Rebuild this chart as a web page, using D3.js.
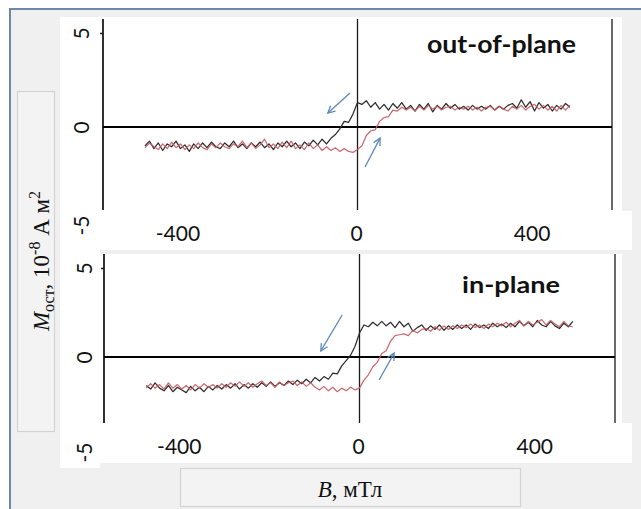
<!DOCTYPE html>
<html><head><meta charset="utf-8">
<script src="https://cdn.jsdelivr.net/npm/d3@7"></script>
<style>body{margin:0;background:#fff;overflow:hidden}</style>
</head><body>
<svg id="c" width="641" height="509"></svg>
<script>
// ---------- data ----------
const fieldB = [-480,-470,-460,-450,-440,-430,-420,-410,-400,-390,-380,-370,-360,-350,-340,-330,-320,-310,-300,-290,
-280,-270,-260,-250,-240,-230,-220,-210,-200,-190,-180,-170,-160,-150,-140,-130,-120,-110,-100,-90,-80,-70,
-60,-50,-40,-30,-20,-10,0,
10,20,30,40,50,60,70,80,90,100,110,120,130,140,150,160,170,180,190,200,210,220,230,240,250,260,270,280,290,300,
310,320,330,340,350,360,370,380,390,400,410,420,430,440,450,460,470,480];

// out-of-plane, descending branch (black)
const outBlack = [-1.0,-0.75,-1.15,-0.85,-1.25,-0.9,-1.05,-0.75,-1.15,-0.95,-1.3,-0.9,-1.15,-0.85,-1.1,-0.8,-1.05,-1.15,-0.85,-1.05,
-0.75,-1.1,-0.9,-1.15,-0.85,-1.05,-0.8,-1.1,-0.9,-1.2,-0.85,-1.05,-0.75,-1.05,-0.85,-1.15,-0.8,-1.0,-0.7,-0.95,-0.65,-0.9,
-0.6,-0.4,-0.1,0.3,0.25,0.7,1.3,
1.2,1.4,1.05,1.3,0.95,1.2,0.9,1.25,1.0,1.3,0.95,1.15,0.85,1.2,0.95,1.25,0.8,1.15,0.95,1.25,1.0,1.2,0.95,1.1,0.9,1.15,0.95,1.1,0.95,1.15,
0.9,1.1,0.95,1.15,1.25,1.0,1.45,1.05,1.35,0.85,1.3,1.0,1.2,0.85,1.15,0.95,1.25,1.05];
// out-of-plane, ascending branch (red)
const outRed = [-1.1,-0.85,-1.05,-1.2,-0.9,-1.15,-0.8,-1.1,-0.9,-1.2,-0.95,-1.15,-0.85,-1.1,-1.2,-0.9,-1.1,-0.85,-1.05,-1.15,
-0.9,-1.05,-0.75,-1.1,-0.85,-1.15,-0.95,-0.65,-1.1,-0.9,-1.15,-0.8,-1.1,-0.75,-1.15,-0.95,-1.2,-0.85,-1.15,-0.95,-1.25,-1.05,
-1.25,-1.1,-1.3,-1.15,-1.3,-1.35,-1.2,
-1.0,-0.45,-0.2,-0.15,0.3,0.5,0.55,0.9,0.85,1.05,0.9,1.05,0.85,1.1,0.9,1.15,0.95,1.1,0.9,1.05,1.1,0.9,1.05,0.95,1.1,0.9,1.05,0.85,1.05,1.1,
0.9,1.1,0.95,0.85,1.1,0.95,1.15,0.9,1.1,1.2,0.95,1.15,0.9,1.1,0.85,1.15,0.9,1.15];

// in-plane, descending branch (black)
const inBlack = [-1.6,-1.8,-1.45,-1.75,-1.9,-1.6,-1.95,-1.7,-1.85,-2.0,-1.65,-1.9,-1.7,-1.95,-1.65,-1.85,-1.6,-1.8,-1.55,-1.75,
-1.5,-1.8,-1.55,-1.75,-1.5,-1.7,-1.45,-1.65,-1.4,-1.65,-1.45,-1.6,-1.35,-1.55,-1.3,-1.5,-1.25,-1.45,-1.15,-1.35,-1.1,-1.25,
-0.9,-0.95,-0.5,-0.2,0.1,0.6,1.35,
1.8,1.7,1.95,1.75,2.0,1.75,1.95,1.65,2.0,1.7,1.9,1.45,1.65,1.8,1.5,1.75,1.55,1.8,1.5,1.75,1.55,1.8,1.6,1.8,1.55,1.85,1.65,1.8,1.6,1.9,
1.7,1.85,1.65,1.9,1.7,2.0,1.75,1.95,1.7,2.05,1.8,1.7,2.0,1.75,1.6,1.9,1.7,2.0];
// in-plane, ascending branch (red)
const inRed = [-1.75,-1.5,-1.75,-1.55,-1.8,-1.45,-1.75,-1.55,-1.8,-1.6,-1.85,-1.55,-1.75,-1.5,-1.7,-1.55,-1.75,-1.5,-1.7,-1.45,
-1.65,-1.4,-1.65,-1.45,-1.7,-1.5,-1.35,-1.6,-1.45,-1.7,-1.4,-1.6,-1.45,-1.35,-1.6,-1.4,-1.65,-1.45,-1.7,-1.85,-1.65,-1.9,
-1.7,-1.95,-1.75,-1.9,-1.7,-1.85,-1.75,
-1.3,-1.0,-0.55,-0.3,0.2,0.35,0.9,1.2,1.25,1.3,1.2,1.5,1.35,1.55,1.6,1.45,1.7,1.5,1.75,1.55,1.75,1.6,1.8,1.65,1.85,1.65,1.8,1.6,1.85,1.7,
1.9,1.75,1.95,1.7,1.9,2.05,1.75,2.0,1.8,1.95,2.1,1.8,2.05,1.85,1.7,2.0,1.75,1.7];

const xTicks = [-400, 0, 400];
const yTicks = [-5, 0, 5];
const panelTitles = ["out-of-plane", "in-plane"];
// arrows: [B start, M start, B end, M end]
const outArrows = [[-17, 1.81, -67, 0.74], [17, -2.13, 51, -0.59]];
const inArrows  = [[-39, 2.36, -87, 0.34], [44, -1.29, 78, 0.22]];
const xDomain = [-575, 575];
const yDomain = [-5, 5];

// ---------- layout ----------
const svg = d3.select("#c");
const defs = svg.append("defs");
defs.append("marker").attr("id","ah").attr("viewBox","-9 -6 11 12")
  .attr("refX",0).attr("refY",0).attr("markerWidth",11).attr("markerHeight",12)
  .attr("markerUnits","userSpaceOnUse").attr("orient","auto")
  .append("path").attr("d","M-7,-3.6 L0,0 L-7,3.6").attr("fill","none")
  .attr("stroke","#5f89b8").attr("stroke-width",1.3);

const fmt = d => String(d);

// background & frame
svg.append("rect").attr("x",0).attr("y",0).attr("width",641).attr("height",509).attr("fill","#ffffff");
svg.append("rect").attr("x",10).attr("y",9).attr("width",660).attr("height",540)
  .attr("fill","#f0f0f0").attr("stroke","#6d88a6").attr("stroke-width",2);

// white areas
const white = [[60,17,40,451],[100,17,522,194],[100,211,532,39],[100,254,522,169],[100,423,532,40]];
white.forEach(r => svg.append("rect").attr("x",r[0]).attr("y",r[1]).attr("width",r[2]).attr("height",r[3]).attr("fill","#ffffff"));

// label boxes
svg.append("rect").attr("x",17.5).attr("y",91.5).attr("width",37).attr("height",340)
  .attr("fill","#f3f3f3").attr("stroke","#d3d3d3").attr("stroke-width",1.2);
svg.append("rect").attr("x",180.5).attr("y",468.5).attr("width",340).attr("height",38)
  .attr("fill","#f3f3f3").attr("stroke","#d3d3d3").attr("stroke-width",1.2);

const panels = [
  {black: outBlack, red: outRed, arrows: outArrows, title: panelTitles[0],
   xr: [103, 612], yr: [221, 33], axTop: 19, axBot: 210, tickY: 239, yLabX: 80, m5shift: 4,
   titleEnd: 576, titleY: 53, titleLen: 149, titleSize: 24},
  {black: inBlack, red: inRed, arrows: inArrows, title: panelTitles[1],
   xr: [104, 615], yr: [446, 268], axTop: 254, axBot: 423, tickY: 452, yLabX: 83, m5shift: 6,
   titleEnd: 560, titleY: 293, titleLen: 98, titleSize: 23}
];

panels.forEach(p => {
  const x = d3.scaleLinear().domain(xDomain).range(p.xr);
  const y = d3.scaleLinear().domain(yDomain).range(p.yr);
  const g = svg.append("g");

  // frame lines: left axis, B=0 line, right line
  [x.range()[0], x(0), x.range()[1]].forEach((xx, i) => {
    g.append("line").attr("x1",xx).attr("x2",xx).attr("y1",p.axTop).attr("y2",p.axBot)
      .attr("stroke", "#1a1a1a").attr("stroke-width", i === 0 ? 1.8 : 1.3);
  });

  // y axis ticks (rotated labels)
  const ya = d3.axisLeft(y).tickValues(yTicks).tickSize(3).tickFormat(fmt);
  const yg = g.append("g").attr("transform",`translate(${x.range()[0]},0)`).call(ya);
  yg.select(".domain").remove();
  yg.selectAll(".tick line").attr("stroke","#1a1a1a").attr("stroke-width",1.5)
    .attr("display", d => d === 5 ? null : "none");
  yg.selectAll(".tick text")
    .attr("x",0).attr("dy",null).attr("y",0)
    .attr("transform", d => `translate(${p.yLabX - x.range()[0]},${d === -5 ? p.m5shift : 0}) rotate(-90)`)
    .attr("text-anchor","middle").attr("dominant-baseline","central")
    .style("font-family","Lato, 'Open Sans', sans-serif").style("font-size","21px").attr("fill","#111");

  // x axis tick labels
  const xa = d3.axisBottom(x).tickValues(xTicks).tickSize(0).tickFormat(fmt);
  const xg = g.append("g").attr("transform",`translate(0,${p.tickY - 15})`).call(xa);
  xg.select(".domain").remove();
  xg.selectAll(".tick text").attr("y",0).attr("dy","0.8em")
    .attr("transform", d => `translate(${d === 0 ? -1.5 : -3},0)`)
    .style("font-family","Lato, 'Open Sans', sans-serif").style("font-size","21px").attr("fill","#111");

  // zero line
  g.append("line").attr("x1",x.range()[0]).attr("x2",x.range()[1]).attr("y1",y(0)).attr("y2",y(0))
    .attr("stroke","#000").attr("stroke-width",2.2);

  // curves
  const line = d3.line().x((d,i) => x(fieldB[i])).y(d => y(d));
  g.append("path").attr("d", line(p.black)).attr("fill","none")
    .attr("stroke","#2e2e2e").attr("stroke-width",1.25).attr("stroke-linejoin","round");
  g.append("path").attr("d", line(p.red)).attr("fill","none")
    .attr("stroke","#c45a62").attr("stroke-width",1.25).attr("stroke-opacity",0.9).attr("stroke-linejoin","round");

  // arrows
  p.arrows.forEach(a => {
    g.append("line").attr("x1",x(a[0])).attr("y1",y(a[1])).attr("x2",x(a[2])).attr("y2",y(a[3]))
      .attr("stroke","#5f89b8").attr("stroke-width",1.3).attr("marker-end","url(#ah)");
  });

  // title
  g.append("text").attr("x",p.titleEnd).attr("y",p.titleY).attr("text-anchor","end")
    .attr("textLength",p.titleLen).attr("lengthAdjust","spacingAndGlyphs")
    .style("font-family","Lato, 'Open Sans', sans-serif").style("font-weight","bold")
    .style("font-size",p.titleSize+"px").attr("fill","#111").text(p.title);
});

// axis titles
const serif = "'Liberation Serif', 'DejaVu Serif', serif";
const yl = svg.append("text").attr("transform","translate(49,261) rotate(-90)")
  .attr("text-anchor","middle").style("font-family",serif).style("font-size","23px").attr("fill","#111");
yl.append("tspan").style("font-style","italic").text("M");
yl.append("tspan").attr("dy",5).style("font-size","16px").text("ост");
yl.append("tspan").attr("dy",-5).text(", 10");
yl.append("tspan").attr("dy",-9).style("font-size","16px").text("-8");
yl.append("tspan").attr("dy",9).text(" А м");
yl.append("tspan").attr("dy",-9).style("font-size","16px").text("2");

const xl = svg.append("text").attr("x",350).attr("y",497).attr("text-anchor","middle")
  .style("font-family",serif).style("font-size","23px").attr("fill","#111");
xl.append("tspan").style("font-style","italic").text("B");
xl.append("tspan").text(", мТл");
</script>
</body></html>
